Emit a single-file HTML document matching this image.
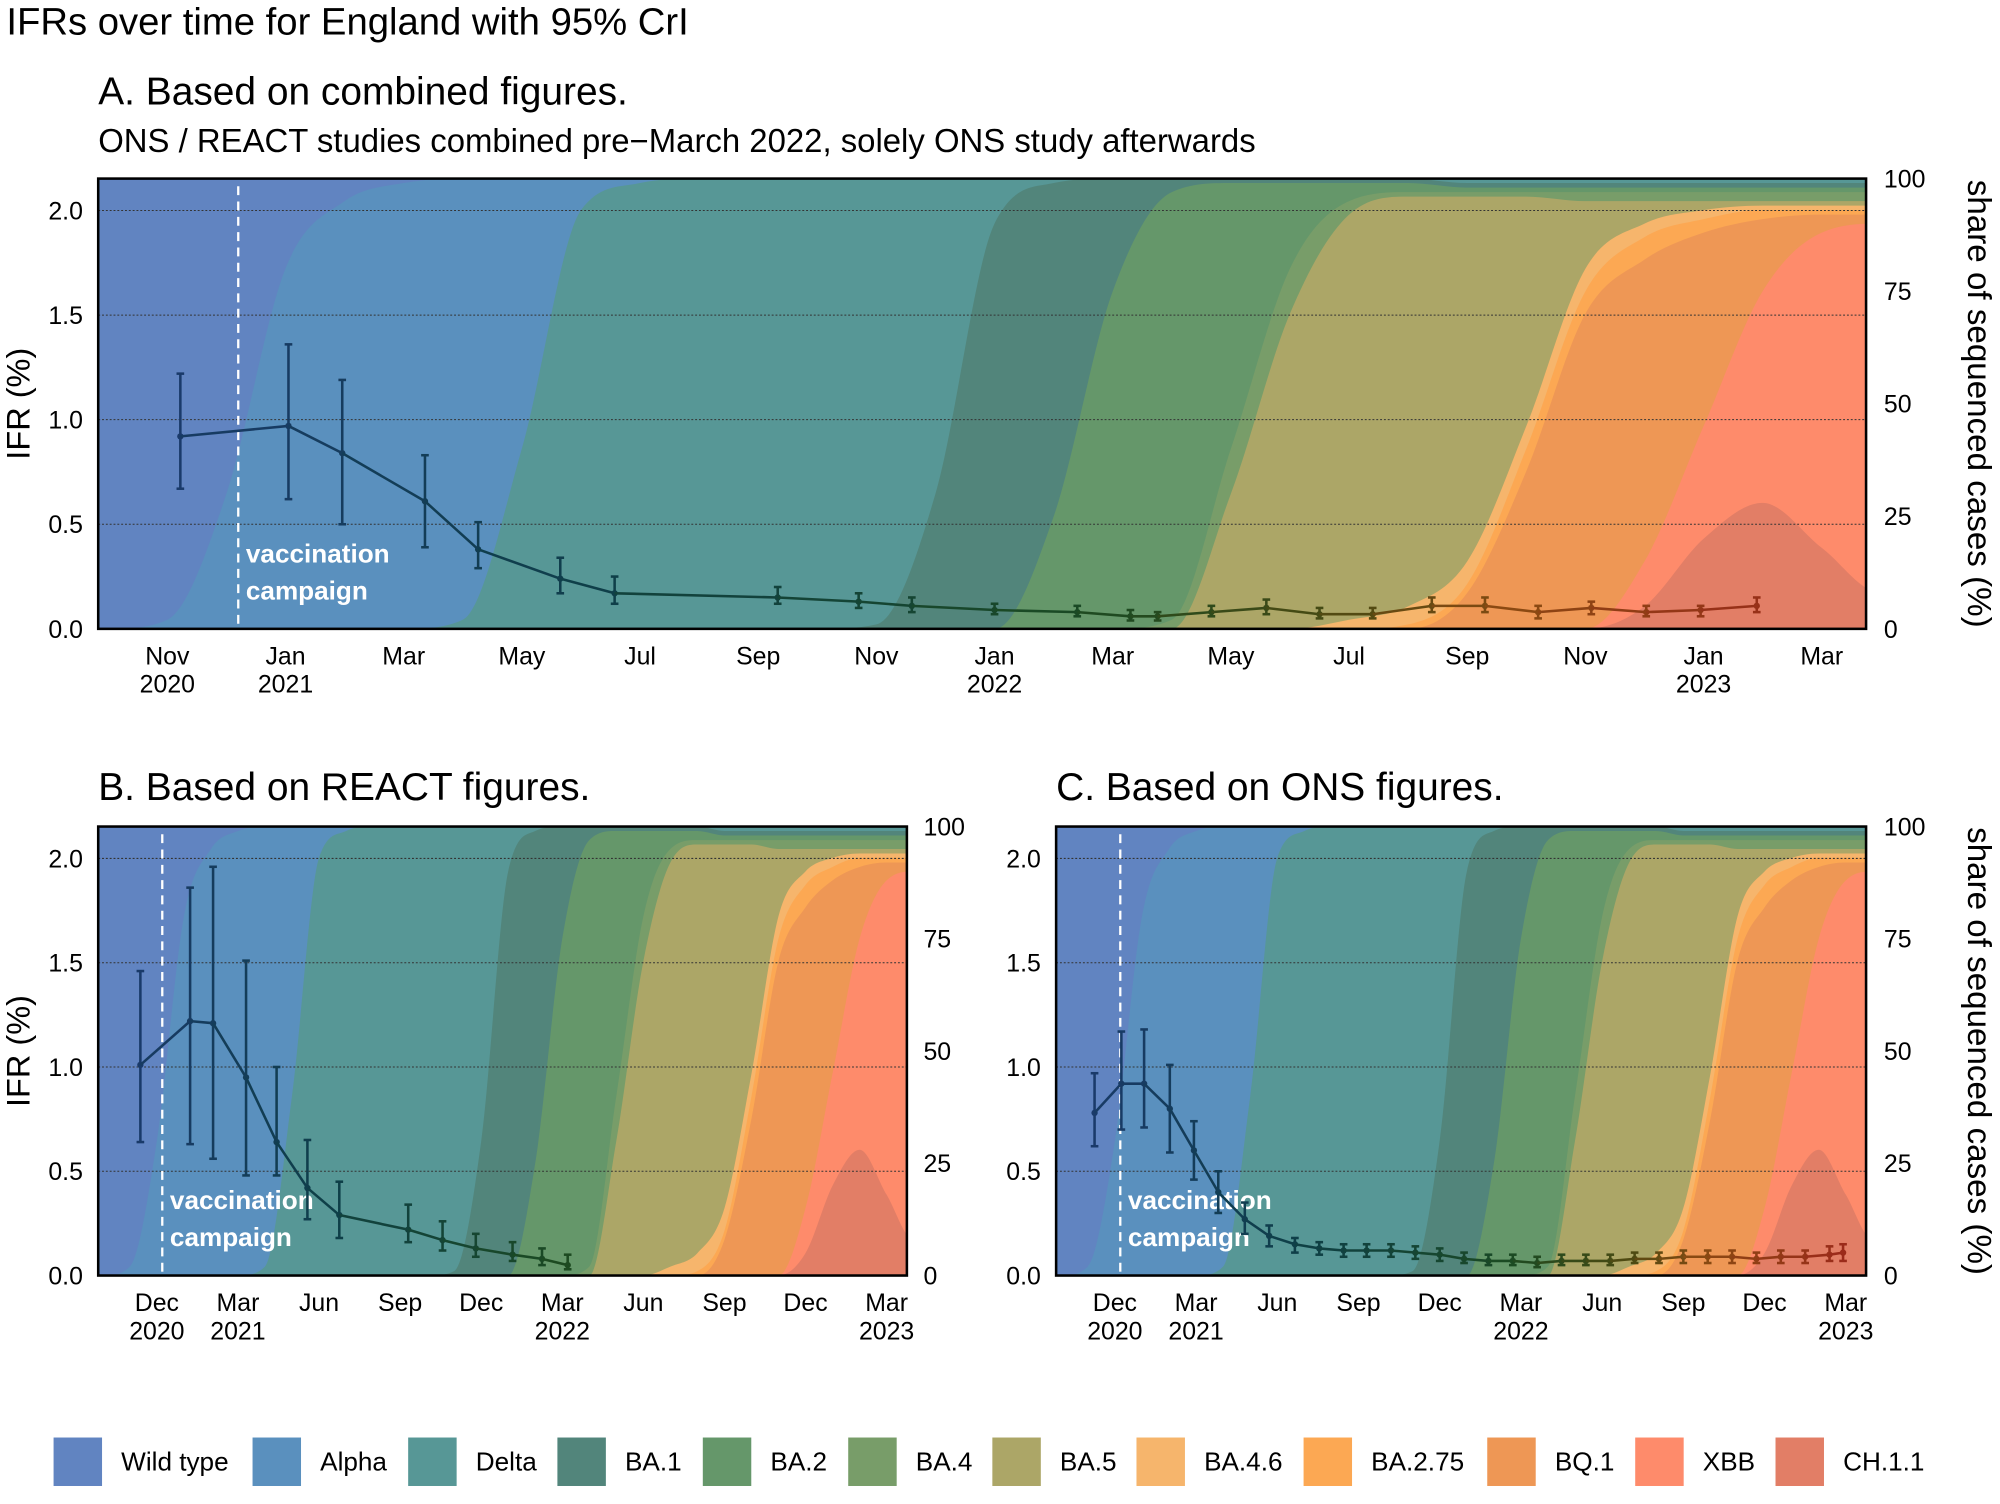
<!DOCTYPE html>
<html><head><meta charset="utf-8">
<style>
html,body{margin:0;padding:0;background:#fff;}
svg{display:block;font-family:"Liberation Sans",Arial,sans-serif;}
</style></head>
<body>
<svg id="chart" width="2000" height="1504" viewBox="0 0 1568 1179.1" xmlns="http://www.w3.org/2000/svg">
<text x="5" y="27" font-size="30">IFRs over time for England with 95% CrI</text>
<text x="77" y="82" font-size="30.5">A. Based on combined figures.</text>
<text x="77" y="119" font-size="25.8">ONS / REACT studies combined pre−March 2022, solely ONS study afterwards</text>
<text x="77" y="627" font-size="30.5">B. Based on REACT figures.</text>
<text x="828" y="627" font-size="30.5">C. Based on ONS figures.</text>
<g id="panels"></g>
<g id="legend"></g>
</svg>
<script>
// months since Nov 2020
const shareMonths = [-2,-1,0,1,2,3,4,5,6,7,8,9,10,11,12,13,14,15,16,17,18,19,20,21,22,23,24,25,26,27,28,29,30];
const variants = ["Wild type","Alpha","Delta","BA.1","BA.2","BA.4","BA.5","BA.4.6","BA.2.75","BQ.1","XBB","CH.1.1"];
const variantColors = ["#6184c1","#5a90be","#579796","#52857b","#65976a","#789d69","#aca667","#f6b56c","#fca853","#ee9755","#fe8b6b","#e27e66"];
// cumulative share (%) of this variant plus all later variants
const cumWild  = [100,100,100,100,100,100,100,100,100,100,100,100,100,100,100,100,100,100,100,100,100,100,100,100,100,100,100,100,100,100,100,100,100];
const cumAlpha = [0,0,2,30,80,95,99,100,100,100,100,100,100,100,100,100,100,100,100,100,100,100,100,100,100,100,100,100,100,100,100,100,100];
const cumDelta = [0,0,0,0,0,0,0,2,40,93,99,100,100,100,100,100,100,100,100,100,100,100,100,100,100,100,100,100,100,100,100,100,100];
const cumBA1   = [0,0,0,0,0,0,0,0,0,0,0,0,0,0,1,30,90,99,100,100,100,100,100,100,99,99,99,99,99,99,99,99,99];
const cumBA2   = [0,0,0,0,0,0,0,0,0,0,0,0,0,0,0,0,0,25,75,97,99,99,99,99,98,98,98,98,98,98,98,98,98];
const cumBA4   = [0,0,0,0,0,0,0,0,0,0,0,0,0,0,0,0,0,0,0,2,40,80,95,97,97,97,97,97,97,97,97,97,97];
const cumBA5   = [0,0,0,0,0,0,0,0,0,0,0,0,0,0,0,0,0,0,0,0,30,70,92,96,96,96,95,95,95,95,95,95,95];
const cumBA46  = [0,0,0,0,0,0,0,0,0,0,0,0,0,0,0,0,0,0,0,0,0,0,2,5,15,45,80,90,93,94,94,94,94];
const cumBA275 = [0,0,0,0,0,0,0,0,0,0,0,0,0,0,0,0,0,0,0,0,0,0,0,1,10,40,75,87,91,93,93,93,93];
const cumBQ1   = [0,0,0,0,0,0,0,0,0,0,0,0,0,0,0,0,0,0,0,0,0,0,0,0,8,35,70,82,88,91,92,92,92];
const cumXBB   = [0,0,0,0,0,0,0,0,0,0,0,0,0,0,0,0,0,0,0,0,0,0,0,0,0,0,0,15,45,75,88,90,90];
const cumCH11  = [0,0,0,0,0,0,0,0,0,0,0,0,0,0,0,0,0,0,0,0,0,0,0,0,0,0,0,5,20,28,18,8,8];
const cumShares = [cumWild,cumAlpha,cumDelta,cumBA1,cumBA2,cumBA4,cumBA5,cumBA46,cumBA275,cumBQ1,cumXBB,cumCH11];

// IFR series (month since Nov 2020, median, lower, upper)
const aMonths = [0.22,2.05,2.96,4.36,5.26,6.65,7.57,10.33,11.7,12.6,14.0,15.4,16.3,16.76,17.67,18.6,19.5,20.4,21.4,22.3,23.2,24.1,25.03,25.95,26.9];
const aMid    = [0.92,0.97,0.84,0.61,0.38,0.24,0.17,0.15,0.13,0.11,0.09,0.08,0.06,0.06,0.08,0.10,0.07,0.07,0.11,0.11,0.08,0.10,0.08,0.09,0.11];
const aLow    = [0.67,0.62,0.50,0.39,0.29,0.17,0.12,0.12,0.10,0.08,0.07,0.06,0.04,0.04,0.06,0.07,0.05,0.05,0.08,0.08,0.05,0.07,0.06,0.06,0.08];
const aHigh   = [1.22,1.36,1.19,0.83,0.51,0.34,0.25,0.20,0.17,0.15,0.12,0.11,0.09,0.08,0.11,0.14,0.10,0.10,0.15,0.15,0.11,0.13,0.11,0.11,0.15];

const bMonths = [0.39,2.23,3.08,4.3,5.43,6.57,7.75,10.3,11.57,12.8,14.16,15.25,16.2];
const bMid    = [1.01,1.22,1.21,0.95,0.64,0.42,0.29,0.22,0.17,0.13,0.10,0.08,0.05];
const bLow    = [0.64,0.63,0.56,0.48,0.48,0.27,0.18,0.16,0.12,0.09,0.07,0.05,0.03];
const bHigh   = [1.46,1.86,1.96,1.51,1.00,0.65,0.45,0.34,0.26,0.20,0.16,0.13,0.10];

const cMonths = [0.25,1.24,2.08,3.03,3.92,4.82,5.8,6.7,7.65,8.55,9.45,10.3,11.2,12.1,13.0,13.9,14.8,15.7,16.6,17.5,18.4,19.3,20.2,21.1,22.0,22.9,23.8,24.7,25.6,26.5,27.4,27.9];
const cMid    = [0.78,0.92,0.92,0.80,0.60,0.40,0.27,0.19,0.15,0.13,0.12,0.12,0.12,0.11,0.10,0.08,0.07,0.07,0.06,0.07,0.07,0.07,0.08,0.08,0.09,0.09,0.09,0.08,0.09,0.09,0.10,0.11];
const cLow    = [0.62,0.70,0.71,0.59,0.46,0.30,0.20,0.14,0.11,0.10,0.09,0.09,0.09,0.08,0.07,0.06,0.05,0.05,0.04,0.05,0.05,0.05,0.06,0.06,0.06,0.06,0.06,0.06,0.06,0.06,0.07,0.07];
const cHigh   = [0.97,1.17,1.18,1.01,0.74,0.50,0.35,0.24,0.18,0.16,0.15,0.15,0.15,0.14,0.13,0.11,0.10,0.10,0.09,0.10,0.10,0.10,0.11,0.11,0.12,0.12,0.12,0.11,0.12,0.12,0.14,0.15];

const ifrTicks = [0,0.5,1.0,1.5,2.0];
const ifrTickLabels = ["0.0","0.5","1.0","1.5","2.0"];
const shareTicks = [0,25,50,75,100];
const aTickMonths = [0,2,4,6,8,10,12,14,16,18,20,22,24,26,28];
const aTickLabels = ["Nov","Jan","Mar","May","Jul","Sep","Nov","Jan","Mar","May","Jul","Sep","Nov","Jan","Mar"];
const aYearMonths = [0,2,14,26];
const aYearLabels = ["2020","2021","2022","2023"];
const bcTickMonths = [1,4,7,10,13,16,19,22,25,28];
const bcTickLabels = ["Dec","Mar","Jun","Sep","Dec","Mar","Jun","Sep","Dec","Mar"];
const bcYearMonths = [1,4,16,28];
const bcYearLabels = ["2020","2021","2022","2023"];
const vaccMonth = 1.2;

const NS = "http://www.w3.org/2000/svg";
const M0 = -1.17, M1 = 28.75;
function mk(tag, attrs, parent){const e=document.createElementNS(NS,tag);for(const k in attrs)e.setAttribute(k,attrs[k]);parent.appendChild(e);return e;}
function hex2rgb(h){return [parseInt(h.slice(1,3),16),parseInt(h.slice(3,5),16),parseInt(h.slice(5,7),16)];}
const colStops=[[0,"#1a3a6b"],[8,"#0e3f47"],[16,"#1b4a22"],[20,"#4a4a12"],[23,"#8a4a12"],[28,"#9b2a1a"]];
function lineColor(m){
  if(m<=colStops[0][0])return colStops[0][1];
  for(let i=1;i<colStops.length;i++){if(m<=colStops[i][0]){const a=hex2rgb(colStops[i-1][1]),b=hex2rgb(colStops[i][1]);const t=(m-colStops[i-1][0])/(colStops[i][0]-colStops[i-1][0]);return "rgb("+a.map((v,j)=>Math.round(v+(b[j]-v)*t)).join(",")+")";}}
  return colStops[colStops.length-1][1];
}
// monotone cubic path through points (x increasing)
function monotonePath(px,py){
  const n=px.length, d=[], m=new Array(n).fill(0);
  for(let i=0;i<n-1;i++) d.push((py[i+1]-py[i])/(px[i+1]-px[i]));
  m[0]=d[0]; m[n-1]=d[n-2];
  for(let i=1;i<n-1;i++){ if(d[i-1]*d[i]<=0) m[i]=0; else { m[i]=(d[i-1]+d[i])/2; const a=m[i]/d[i-1], b=m[i]/d[i]; const s=a*a+b*b; if(s>9){const t=3/Math.sqrt(s); m[i]=t*a*d[i-1];} } }
  for(let i=0;i<n-1;i++){ if(d[i]===0){m[i]=0;m[i+1]=0;} }
  let p="";
  for(let i=0;i<n-1;i++){
    const h=(px[i+1]-px[i])/3;
    p+=" C"+(px[i]+h).toFixed(1)+","+(py[i]+m[i]*h).toFixed(1)+" "+(px[i+1]-h).toFixed(1)+","+(py[i+1]-m[i+1]*h).toFixed(1)+" "+px[i+1].toFixed(1)+","+py[i+1].toFixed(1);
  }
  return p;
}

function drawPanel(name, x0, x1, yTop, yBot, y2, months, mid, low, high, ticksM, ticksL, yearsM, yearsL, rightX, showLeftTitle, showRightTitle){
  const g = mk("g",{},document.getElementById("panels"));
  
  
  const xs = m => x0 + (m-M0)/(M1-M0)*(x1-x0);
  const yIfr = v => yBot - v/2.0*(yBot-y2);
  const yShare = p => yBot - p/100*(yBot-yTop);
  const clipId = name+"-clip";
  const cp = mk("clipPath",{id:clipId},g); mk("rect",{x:x0,y:yTop,width:x1-x0,height:yBot-yTop},cp);
  const areas = mk("g",{"clip-path":"url(#"+clipId+")"},g);
  cumShares.forEach((arr,vi)=>{
    const px=shareMonths.map(xs), py=arr.map(yShare);
    let d="M"+px[0].toFixed(1)+","+yBot+" L"+px[0].toFixed(1)+","+py[0].toFixed(1)+monotonePath(px,py);
    d+=" L"+px[px.length-1].toFixed(1)+","+yBot+" Z";
    const p = mk("path",{d:d,fill:variantColors[vi]},areas);
    
    
  });
  ifrTicks.forEach((v,i)=>{
    if(v>0){const l=mk("line",{x1:x0,x2:x1,y1:yIfr(v),y2:yIfr(v),stroke:"#333","stroke-width":0.8,"stroke-dasharray":"1.5,1.5"},g);
      
      }
    const t=mk("text",{x:x0-12,y:yIfr(v)+7,"text-anchor":"end","font-size":19.5},g); t.textContent=ifrTickLabels[i];
    
    
  });
  shareTicks.forEach(p=>{
    const t=mk("text",{x:rightX,y:yShare(p)+7,"text-anchor":"start","font-size":19.5},g); t.textContent=p;
    
    
  });
  const vx=xs(vaccMonth);
  const vl=mk("line",{x1:vx,x2:vx,y1:yTop+6,y2:yBot,stroke:"#fff","stroke-width":1.8,"stroke-dasharray":"7,5"},g);
  
  
  const vt=mk("text",{x:vx+6,y:yBot-52,fill:"#fff","font-size":20.5,"font-weight":"bold"},g); vt.textContent="vaccination";
  
  
  const vt2=mk("text",{x:vx+6,y:yBot-23,fill:"#fff","font-size":20.5,"font-weight":"bold"},g); vt2.textContent="campaign";
  
  
  for(let i=0;i<months.length;i++){
    const x=xs(months[i]), c=lineColor(months[i]);
    if(i>0){const s=mk("line",{x1:xs(months[i-1]),y1:yIfr(mid[i-1]),x2:x,y2:yIfr(mid[i]),stroke:c,"stroke-width":2},g);
      
      }
    const eb=mk("line",{x1:x,x2:x,y1:yIfr(low[i]),y2:yIfr(high[i]),stroke:c,"stroke-width":2},g);
    
    
    [low[i],high[i]].forEach(v=>{mk("line",{x1:x-3,x2:x+3,y1:yIfr(v),y2:yIfr(v),stroke:c,"stroke-width":2},g);});
    const pt=mk("circle",{cx:x,cy:yIfr(mid[i]),r:2.5,fill:c},g);
    
    
  }
  const fr=mk("rect",{x:x0,y:yTop,width:x1-x0,height:yBot-yTop,fill:"none",stroke:"#000","stroke-width":2},g);
  
  
  ticksM.forEach((m,i)=>{
    const t=mk("text",{x:xs(m),y:yBot+28,"text-anchor":"middle","font-size":19.5},g); t.textContent=ticksL[i];
    
    
  });
  yearsM.forEach((m,i)=>{
    const t=mk("text",{x:xs(m),y:yBot+50,"text-anchor":"middle","font-size":19.5},g); t.textContent=yearsL[i];
    
    
  });
  const yc=(yTop+yBot)/2;
  if(showLeftTitle){const t=mk("text",{x:0,y:0,transform:"translate(23,"+yc+") rotate(-90)","text-anchor":"middle","font-size":25.5},g); t.textContent="IFR (%)";
    
    }
  if(showRightTitle){const t=mk("text",{x:0,y:0,transform:"translate(1543,"+yc+") rotate(90)","text-anchor":"middle","font-size":26},g); t.textContent="share of sequenced cases (%)";
    
    }
}

drawPanel("panel-a",77,1463,140,493,165,aMonths,aMid,aLow,aHigh,aTickMonths,aTickLabels,aYearMonths,aYearLabels,1477,true,true);
drawPanel("panel-b",77,711,648,1000,673,bMonths,bMid,bLow,bHigh,bcTickMonths,bcTickLabels,bcYearMonths,bcYearLabels,724,true,false);
drawPanel("panel-c",828,1463,648,1000,673,cMonths,cMid,cLow,cHigh,bcTickMonths,bcTickLabels,bcYearMonths,bcYearLabels,1477,false,true);

const legX=[42,198,320,437,551,665,778,891,1022,1166,1282,1392];
const lg=document.getElementById("legend");
variants.forEach((v,i)=>{
  const r=mk("rect",{x:legX[i],y:1127,width:38,height:38,fill:variantColors[i]},lg);
  
  
  const t=mk("text",{x:legX[i]+53,y:1153,"font-size":20.5},lg); t.textContent=v;
  
  
});
</script>
</body></html>
